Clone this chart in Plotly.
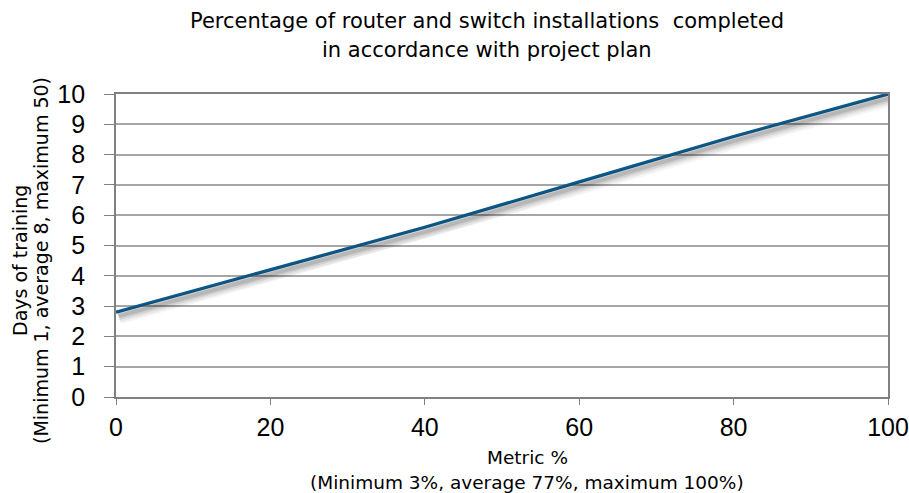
import plotly.graph_objects as go

# Days of training versus metric %
metric_pct = [0, 20, 40, 60, 80, 100]
training_days = [2.8, 4.2, 5.6, 7.1, 8.6, 10.0]

x_ticks = [0, 20, 40, 60, 80, 100]
y_ticks = list(range(0, 11))

title_lines = ["Percentage of router and switch installations  completed",
               "in accordance with project plan"]
x_title_lines = ["Metric %", "(Minimum 3%, average 77%, maximum 100%)"]
y_title_lines = ["Days of training", "(Minimum 1, average 8, maximum 50)"]

LINE_COLOR = "#0d5a8c"
GRID_COLOR = "#a6a6a6"
AXIS_COLOR = "#808080"
FONT = "DejaVu Sans, sans-serif"
TICK_FONT = "Liberation Sans, Arial, sans-serif"

L, R, T, B = 116, 21, 94, 96
W, H = 909, 493
pw, ph = W - L - R, H - T - B


def px_x(px):
    return (px - L) / pw


def px_y(py):
    return (T + ph - py) / ph


fig = go.Figure()

# soft drop shadow: same series on overlay axes whose ranges are nudged so the
# line lands a few pixels down and to the right
shadow_layers = [(5.5, 13, 0.04), (5, 10, 0.06), (4.5, 7, 0.09), (4, 4, 0.12)]
for i, (off, width, alpha) in enumerate(shadow_layers, start=2):
    sx = off * 0.6 / pw * 100
    sy = off / ph * 10
    fig.add_trace(go.Scatter(
        x=metric_pct, y=training_days, mode="lines",
        line=dict(color=f"rgba(0,0,0,{alpha})", width=width),
        xaxis=f"x{i}", yaxis=f"y{i}", hoverinfo="skip", showlegend=False,
        cliponaxis=False,
    ))
    fig.layout[f"xaxis{i}"] = dict(range=[-sx, 100 - sx], visible=False,
                                   overlaying="x", anchor=f"y{i}")
    fig.layout[f"yaxis{i}"] = dict(range=[sy, 10 + sy], visible=False,
                                   overlaying="y", anchor=f"x{i}")

fig.add_trace(go.Scatter(
    x=metric_pct, y=training_days, mode="lines",
    line=dict(color=LINE_COLOR, width=3.2), showlegend=False, cliponaxis=False,
))

annotations = []
for text, py in zip(title_lines, [21, 50]):
    annotations.append(dict(text=text, xref="paper", yref="paper", x=px_x(487), y=px_y(py),
                            xanchor="center", yanchor="middle", showarrow=False,
                            font=dict(size=21, family=FONT)))
for text, py in zip(x_title_lines, [458, 482]):
    annotations.append(dict(text=text, xref="paper", yref="paper", x=px_x(527), y=px_y(py),
                            xanchor="center", yanchor="middle", showarrow=False,
                            font=dict(size=18.5, family=FONT)))
for text, pxx in zip(y_title_lines, [20, 41]):
    annotations.append(dict(text=text, xref="paper", yref="paper", x=px_x(pxx), y=px_y(261),
                            xanchor="center", yanchor="middle", showarrow=False,
                            textangle=-90, font=dict(size=19, family=FONT)))

fig.update_layout(
    width=W, height=H,
    margin=dict(l=L, r=R, t=T, b=B, autoexpand=False),
    paper_bgcolor="white", plot_bgcolor="white",
    font=dict(family=FONT, color="#000000"),
    showlegend=False,
    xaxis=dict(
        range=[0, 100], tickvals=x_ticks, ticks="outside", ticklen=6, tickwidth=1.3,
        tickcolor=AXIS_COLOR, showline=True, linecolor=AXIS_COLOR, linewidth=1.8,
        mirror=True, showgrid=False, zeroline=False, automargin=False,
        ticklabeloverflow="allow",
        tickfont=dict(size=25, family=TICK_FONT), ticklabelstandoff=1,
    ),
    yaxis=dict(
        range=[0, 10], tickvals=y_ticks, ticks="outside", ticklen=10, tickwidth=1.3,
        tickcolor=AXIS_COLOR, showline=True, linecolor=AXIS_COLOR, linewidth=1.8,
        mirror=True, showgrid=True, gridcolor=GRID_COLOR, gridwidth=1.5, zeroline=False,
        automargin=False, ticklabeloverflow="allow",
        tickfont=dict(size=25, family=TICK_FONT), ticklabelstandoff=14,
    ),
    annotations=annotations,
)

fig.write_html("out.html")
